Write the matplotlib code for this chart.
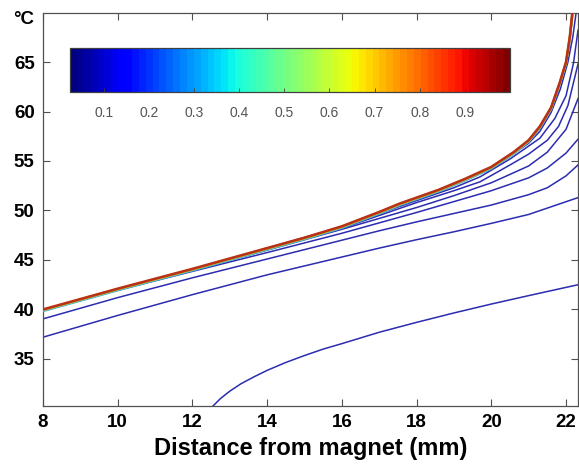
import matplotlib
matplotlib.use("Agg")
import matplotlib.pyplot as plt
import matplotlib.transforms as mtransforms
from matplotlib.colorbar import ColorbarBase
from matplotlib.colors import Normalize

plt.rcParams['font.family'] = ['Liberation Sans', 'DejaVu Sans']

# top contour bundle (all upper levels stacked together)
bundle_x = [8, 9, 10, 11, 12, 13, 14, 15, 16, 17, 17.55, 18, 18.6, 19.3, 20,
            20.6, 21.0, 21.3, 21.6, 21.83, 22.0, 22.1, 22.17]
bundle_y = [40.0, 41.05, 42.1, 43.1, 44.1, 45.15, 46.2, 47.25, 48.4, 49.85, 50.7,
            51.3, 52.1, 53.2, 54.4, 55.9, 57.1, 58.5, 60.4, 62.9, 65.0, 67.5, 70.0]

# separate low-level contours (blue), listed from the one nearest the bundle
line_g_x = [8, 12, 16, 18, 20, 21, 21.3, 21.6, 21.85, 22.05, 22.18, 22.27]
line_g_y = [39.95, 44.05, 48.35, 51.15, 54.2, 56.8, 58.0, 59.9, 62.3, 65.0, 67.5, 70.0]

line_f_x = [8, 12, 16, 17, 18, 19, 19.7, 20.5, 21.3, 21.7, 22.0, 22.2, 22.32]
line_f_y = [39.95, 44.0, 48.3, 49.7, 51.0, 52.3, 53.4, 55.2, 57.3, 59.3, 61.6, 64.9, 68.2]

line_e_x = [8, 12, 16, 17, 18, 19, 19.7, 20.5, 21.0, 21.5, 21.8, 22.05, 22.32]
line_e_y = [39.95, 44.0, 48.2, 49.5, 50.8, 52.0, 52.9, 54.6, 55.7, 57.1, 58.5, 60.6, 64.8]

line_d_x = [8, 10, 12, 14, 16, 17, 18, 19, 20, 21, 21.5, 22.0, 22.32]
line_d_y = [39.95, 42.0, 44.0, 46.0, 48.1, 49.2, 50.3, 51.5, 52.8, 54.5, 55.9, 58.2, 61.3]

line_c_x = [8, 10, 12, 14, 16, 17, 18, 19, 20, 21, 21.5, 22.0, 22.32]
line_c_y = [39.9, 41.95, 43.85, 45.75, 47.7, 48.75, 49.8, 50.9, 52.0, 53.3, 54.3, 55.8, 57.2]

line_b_x = [8, 10, 12, 14, 16, 17, 18, 19, 20, 21, 21.5, 22.0, 22.32]
line_b_y = [39.05, 41.2, 43.2, 45.1, 47.0, 47.95, 48.85, 49.7, 50.55, 51.6, 52.3, 53.5, 54.6]

line_a_x = [8, 10, 12, 14, 16, 17, 18, 19, 20, 21, 22.32]
line_a_y = [37.2, 39.4, 41.5, 43.5, 45.3, 46.2, 47.05, 47.85, 48.7, 49.6, 51.3]

# lowest contour, entering from the bottom edge
line_low_x = [12.55, 12.75, 13.0, 13.3, 13.65, 14, 14.5, 15, 15.5, 16, 17, 18, 19, 20, 21, 22.32]
line_low_y = [30.25, 31.0, 31.75, 32.5, 33.2, 33.85, 34.65, 35.35, 36.0, 36.55, 37.7,
              38.7, 39.65, 40.55, 41.4, 42.5]

blue_lines = [
    (line_low_x, line_low_y), (line_a_x, line_a_y), (line_b_x, line_b_y),
    (line_c_x, line_c_y), (line_d_x, line_d_y), (line_e_x, line_e_y),
    (line_f_x, line_f_y), (line_g_x, line_g_y),
]

cbar_ticks = [0.1, 0.2, 0.3, 0.4, 0.5, 0.6, 0.7, 0.8, 0.9]
x_ticks = [8, 10, 12, 14, 16, 18, 20, 22]
y_ticks = [35, 40, 45, 50, 55, 60, 65]

W, H = 579, 465
fig = plt.figure(figsize=(W / 100, H / 100), dpi=100)
ax = fig.add_axes([43 / W, 1 - 406 / H, 535 / W, 392.5 / H])

line_blue = '#2c2cb0'
for xs, ys in blue_lines:
    ax.plot(xs, ys, color=line_blue, lw=1.1, zorder=2)

# bundle: coloured fringe peeking out beneath the red level
fringe = [('#3aa0e8', -1.6), ('#50c8b0', -1.1), ('#a8d040', -0.7), ('#f0c020', -0.3)]
for col, dy in fringe:
    tr = mtransforms.offset_copy(ax.transData, fig=fig, x=0, y=dy, units='dots')
    ax.plot(bundle_x, bundle_y, color=col, lw=1.6, transform=tr, zorder=3)
ax.plot(bundle_x, bundle_y, color='#b83218', lw=1.9, zorder=4)

ax.set_xlim(8, 22.32)
ax.set_ylim(30.25, 69.9)
ax.set_xticks(x_ticks)
ax.set_yticks(y_ticks)
ax.tick_params(direction='in', length=5, width=0.8, color='#505050',
               top=True, right=True, labelsize=13.5, pad=6)
for lab in ax.get_xticklabels() + ax.get_yticklabels():
    lab.set_fontweight('bold')
for sp in ax.spines.values():
    sp.set_color('#505050')
    sp.set_linewidth(0.9)

ax.set_xlabel('Distance from magnet (mm)', fontsize=17, fontweight='bold', labelpad=4)
fig.text(13 / W, 1 - 20 / H, '°C', fontsize=13.5, fontweight='bold', va='center', ha='left')

# horizontal colour scale drawn inside the plot area
cax = fig.add_axes([70 / W, 1 - 92 / H, 440 / W, 44 / H])
cb = ColorbarBase(cax, cmap=plt.get_cmap('jet', 64), norm=Normalize(0.025, 1.0),
                  orientation='horizontal', ticks=cbar_ticks)
cb.ax.set_xticklabels([f'{t:.1f}' for t in cbar_ticks])
cb.ax.tick_params(direction='in', length=3, width=0.6, color='#404040',
                  labelsize=10, labelcolor='#555555', pad=10)
cb.outline.set_edgecolor('#404040')
cb.outline.set_linewidth(0.9)

fig.savefig('out.png', dpi=100)
